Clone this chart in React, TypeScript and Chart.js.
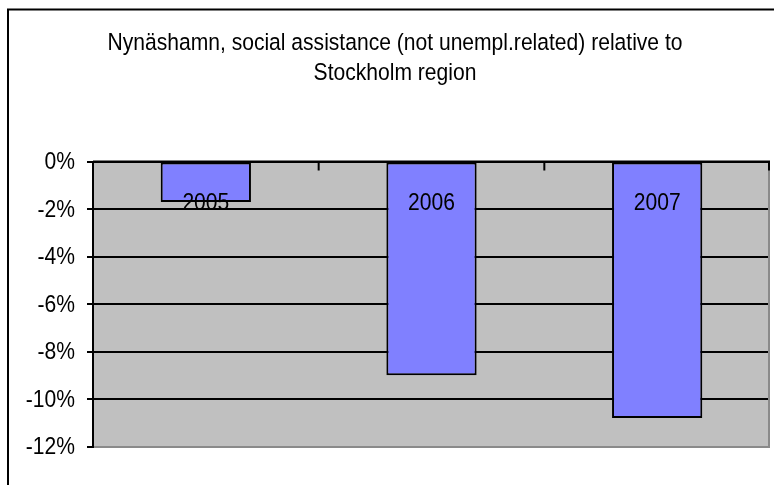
import React, { useEffect, useRef } from "react";
import { Chart, registerables } from "chart.js";

Chart.register(...registerables);

const categories = ["2005", "2006", "2007"];
const values = [-1.7, -9.0, -10.8];
const titleLines = [
  "Nynäshamn, social assistance (not unempl.related) relative to",
  "Stockholm region",
];
const yMin = -12;
const yMax = 0;
const yStep = 2;

const FONT = "'Liberation Sans', Arial, sans-serif";
const FONT_SIZE = 24.5;
const SQUEEZE = 0.86;

function narrowText(ctx: any, text: string, x: number, y: number, align: string) {
  ctx.save();
  ctx.font = `${FONT_SIZE}px ${FONT}`;
  ctx.fillStyle = "#000000";
  ctx.textAlign = align;
  ctx.translate(x, y);
  ctx.scale(SQUEEZE, 1);
  ctx.fillText(text, 0, 0);
  ctx.restore();
}

const decorPlugin = {
  id: "decor",
  beforeDraw(chart: any) {
    const { ctx, chartArea } = chart;
    ctx.save();
    ctx.fillStyle = "#ffffff";
    ctx.fillRect(0, 0, chart.width, chart.height);
    ctx.fillStyle = "#C0C0C0";
    ctx.fillRect(chartArea.left, chartArea.top, chartArea.right - chartArea.left, chartArea.bottom - chartArea.top);
    ctx.strokeStyle = "#000000";
    ctx.lineWidth = 2;
    ctx.beginPath();
    ctx.moveTo(8, chart.height + 2);
    ctx.lineTo(8, 9.5);
    ctx.lineTo(chart.width + 2, 9.5);
    ctx.stroke();
    ctx.restore();
    // title
    ctx.save();
    ctx.textBaseline = "alphabetic";
    narrowText(ctx, titleLines[0], 395, 50, "center");
    narrowText(ctx, titleLines[1], 395, 79.5, "center");
    ctx.restore();
  },
  afterDatasetsDraw(chart: any) {
    const { ctx, chartArea } = chart;
    const xs = chart.scales.x;
    const ys = chart.scales.y;
    ctx.save();
    ctx.strokeStyle = "#8a8a8a";
    ctx.lineWidth = 2;
    ctx.beginPath();
    ctx.moveTo(chartArea.right - 1, chartArea.top);
    ctx.lineTo(chartArea.right - 1, chartArea.bottom);
    ctx.stroke();
    const y0 = ys.getPixelForValue(0);
    ctx.strokeStyle = "#000000";
    ctx.lineWidth = 2;
    ctx.beginPath();
    ctx.moveTo(chartArea.left, y0);
    ctx.lineTo(chartArea.right, y0);
    ctx.stroke();
    for (let k = 1; k <= categories.length; k++) {
      const x = Math.min(xs.getPixelForValue(k - 0.5), chartArea.right - 1);
      ctx.beginPath();
      ctx.moveTo(x, y0);
      ctx.lineTo(x, y0 + 9);
      ctx.stroke();
    }
    // y tick labels
    ctx.textBaseline = "middle";
    ys.ticks.forEach((t: any) => {
      narrowText(ctx, `${t.value}%`, chartArea.left - 18, ys.getPixelForValue(t.value) + 1, "right");
    });
    // bar labels
    ctx.textBaseline = "alphabetic";
    const meta = chart.getDatasetMeta(0);
    meta.data.forEach((bar: any, i: number) => {
      narrowText(ctx, categories[i], bar.x, y0 + 48.5, "center");
    });
    ctx.restore();
  },
};

export default function App() {
  const ref = useRef<HTMLCanvasElement | null>(null);
  useEffect(() => {
    if (!ref.current) return;
    const chart = new Chart(ref.current, {
      type: "bar",
      data: {
        labels: categories,
        datasets: [
          {
            data: values,
            backgroundColor: "#8080FF",
            borderColor: "#000000",
            borderWidth: 2,
            borderSkipped: false,
            barPercentage: 0.4,
            categoryPercentage: 1,
          },
        ],
      },
      options: {
        animation: false,
        responsive: false,
        maintainAspectRatio: false,
        layout: { padding: { left: 0, right: 4, bottom: 38.5, top: 161.5 } },
        plugins: {
          legend: { display: false },
          tooltip: { enabled: false },
          title: { display: false },
        },
        scales: {
          x: {
            display: false,
            offset: true,
            grid: { display: false },
          },
          y: {
            min: yMin,
            max: yMax,
            afterFit(scale: any) {
              scale.width = 93;
            },
            ticks: {
              display: false,
              stepSize: yStep,
            },
            grid: {
              color: (c: any) => (c.tick && c.tick.value === yMin ? "#8a8a8a" : "#000000"),
              tickColor: "#000000",
              lineWidth: 2,
              tickLength: 6,
            },
            border: { display: true, color: "#000000", width: 2 },
          },
        },
      },
      plugins: [decorPlugin],
    });
    return () => chart.destroy();
  }, []);
  return (
    <div style={{ position: "absolute", left: 0, top: 0, width: 774, height: 485 }}>
      <canvas ref={ref} width={774} height={485} style={{ display: "block" }} />
    </div>
  );
}
